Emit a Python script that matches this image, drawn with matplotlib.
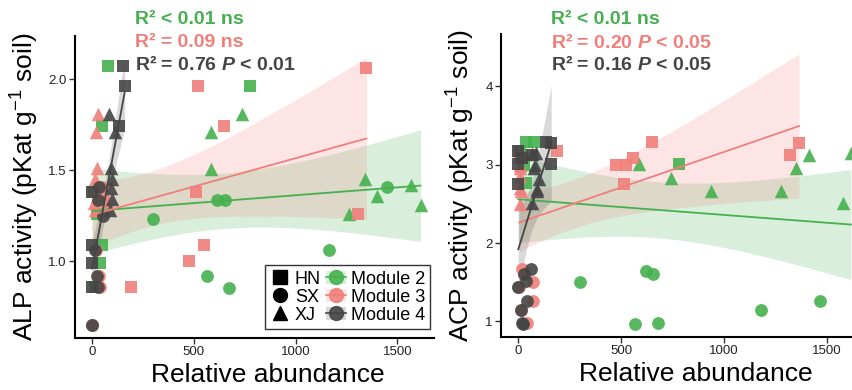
import numpy as np
import matplotlib.pyplot as plt
from matplotlib.lines import Line2D
from matplotlib.patches import Patch

plt.rcParams['font.family'] = 'Liberation Sans'
plt.rcParams['mathtext.fontset'] = 'custom'
plt.rcParams['mathtext.rm'] = 'Liberation Sans'
plt.rcParams['mathtext.it'] = 'Liberation Sans:italic:bold'
plt.rcParams['mathtext.bf'] = 'Liberation Sans:bold'

# ---- data (points hidden under others are estimated) ----
modules = ['Module 2', 'Module 3', 'Module 4']
colors = ['#45B14E', '#F07F7B', '#454545']
sites = ['HN', 'SX', 'XJ']
site_markers = {'HN': 's', 'SX': 'o', 'XJ': '^'}

# ALP panel
alp_m2_x = [80, 50, 777, 50, 40, 10, 15, 25,
            300, 615, 654, 1166, 566, 674, 1451, 0,
            585, 738, 585, 1343, 1402, 1565, 1614, 1260]
alp_m2_y = [2.07, 1.74, 1.96, 1.09, 0.99, 1.38, 0.86, 1.26,
            1.23, 1.335, 1.335, 1.06, 0.92, 0.85, 1.41, 0.65,
            1.71, 1.81, 1.505, 1.45, 1.36, 1.42, 1.31, 1.26]
alp_m2_site = ['HN'] * 8 + ['SX'] * 8 + ['XJ'] * 8

alp_m3_x = [522, 650, 1348, 512, 551, 477, 192, 1309,
            30, 20, 25, 15, 20, 25, 10, 15,
            35, 40, 75, 0, 20, 60, 50]
alp_m3_y = [1.96, 1.74, 2.06, 1.38, 1.09, 1.0, 0.86, 1.26,
            1.81, 1.71, 1.51, 1.45, 1.40, 1.36, 1.32, 1.28,
            0.92, 0.86, 1.29, 0.65, 1.06, 1.335, 1.41]
alp_m3_site = ['HN'] * 8 + ['XJ'] * 8 + ['SX'] * 7

alp_m4_x = [150, 160, 130, 0, 0, 0, 0,
            85, 115, 95, 100, 95, 100, 90,
            15, 25, 30, 0, 55, 30, 35]
alp_m4_y = [2.07, 1.96, 1.74, 1.38, 1.09, 0.99, 0.86,
            1.81, 1.71, 1.51, 1.45, 1.40, 1.34, 1.28,
            1.06, 0.92, 0.86, 0.65, 1.25, 1.335, 1.41]
alp_m4_site = ['HN'] * 7 + ['XJ'] * 7 + ['SX'] * 7

# ACP panel
acp_m2_x = [39, 78, 781, 39, 10, 20, 15, 30,
            301, 621, 655, 568, 680, 1180, 1466, 0,
            587, 743, 937, 1277, 1349, 1412, 1616, 1578]
acp_m2_y = [3.29, 3.29, 3.01, 2.77, 3.17, 3.08, 3.13, 3.0,
            1.50, 1.64, 1.61, 0.97, 0.98, 1.15, 1.26, 1.44,
            3.01, 2.83, 2.67, 2.67, 2.96, 3.13, 3.15, 2.51]
acp_m2_site = ['HN'] * 8 + ['SX'] * 8 + ['XJ'] * 8

acp_m3_x = [189, 476, 524, 558, 650, 514, 1320, 1364,
            5, 10, 10, 10, 10, 10, 10, 15,
            20, 70, 70, 40, 30, 5, 15]
acp_m3_y = [3.17, 3.0, 3.0, 3.08, 3.29, 2.76, 3.13, 3.28,
            3.18, 3.0, 2.85, 2.7, 2.5, 3.13, 2.96, 2.67,
            1.67, 1.50, 1.26, 0.98, 1.60, 1.44, 1.15]
acp_m3_site = ['HN'] * 8 + ['XJ'] * 8 + ['SX'] * 7

acp_m4_x = [136, 0, 0, 160, 0, 68, 20, 160,
            68, 80, 100, 92, 68, 75, 90, 85,
            63, 29, 39, 0, 44, 15, 20, 25]
acp_m4_y = [3.29, 3.18, 3.01, 3.01, 2.76, 3.12, 3.08, 3.28,
            3.14, 3.0, 2.82, 2.69, 2.51, 2.96, 2.67, 3.15,
            1.67, 1.60, 1.52, 1.44, 1.26, 1.15, 0.98, 0.97]
acp_m4_site = ['HN'] * 8 + ['XJ'] * 8 + ['SX'] * 8

alp_stats = ['R² < 0.01 ns', 'R² = 0.09 ns', 'R² = 0.76 $P$ < 0.01']
acp_stats = ['R² < 0.01 ns', 'R² = 0.20 $P$ < 0.05', 'R² = 0.16 $P$ < 0.05']


def t975(df):
    z = 1.959964
    return z + (z**3 + z) / (4 * df) + (5 * z**5 + 16 * z**3 + 3 * z) / (96 * df**2)


def lm_band(ax, x, y, color):
    # linear fit with 95% confidence band, like geom_smooth(method = "lm")
    x = np.asarray(x, float)
    y = np.asarray(y, float)
    n = len(x)
    b, a = np.polyfit(x, y, 1)
    xs = np.linspace(x.min(), x.max(), 100)
    fit = a + b * xs
    resid = y - (a + b * x)
    s = np.sqrt(np.sum(resid**2) / (n - 2))
    sxx = np.sum((x - x.mean())**2)
    se = s * np.sqrt(1 / n + (xs - x.mean())**2 / sxx)
    ci = t975(n - 2) * se
    ax.fill_between(xs, fit - ci, fit + ci, color=color, alpha=0.2, lw=0, zorder=1)
    ax.plot(xs, fit, color=color, lw=1.3, zorder=4)


def panel(ax, data, ylim, yticks, ylabel):
    for (x, y, st), c in zip(data, colors):
        lm_band(ax, x, y, c)
    for (x, y, st), c in zip(data, colors):
        x = np.asarray(x)
        y = np.asarray(y)
        st = np.asarray(st)
        for s in sites:
            m = st == s
            ax.scatter(x[m], y[m], marker=site_markers[s], s=95 if s == 'XJ' else 85,
                       color=c, alpha=0.9, lw=0, zorder=3)
    ax.set_xlim(-84, 1680)
    ax.set_ylim(*ylim)
    ax.set_xticks([0, 500, 1000, 1500])
    ax.set_yticks(yticks)
    for sp in ['top', 'right']:
        ax.spines[sp].set_visible(False)
    for sp in ['left', 'bottom']:
        ax.spines[sp].set_linewidth(1.5)
    ax.tick_params(length=4, width=1, color='#333333', labelsize=9.5, labelcolor='#222222', pad=2)
    ax.set_xlabel('Relative abundance', fontsize=19)
    ax.set_ylabel(ylabel, fontsize=19)


fig = plt.figure(figsize=(8.52, 3.9), dpi=100)
ax1 = fig.add_axes([75 / 852, 1 - 338 / 390, 359 / 852, 302 / 390])
ax2 = fig.add_axes([501 / 852, 1 - 337 / 390, 363 / 852, 303 / 390])

panel(ax1, [(alp_m2_x, alp_m2_y, alp_m2_site), (alp_m3_x, alp_m3_y, alp_m3_site),
            (alp_m4_x, alp_m4_y, alp_m4_site)],
      (0.578, 2.237), [1.0, 1.5, 2.0], r'ALP activity (pKat g$^{-1}$ soil)')
ax1.set_yticklabels(['1.0', '1.5', '2.0'])
panel(ax2, [(acp_m2_x, acp_m2_y, acp_m2_site), (acp_m3_x, acp_m3_y, acp_m3_site),
            (acp_m4_x, acp_m4_y, acp_m4_site)],
      (0.80, 4.67), [1, 2, 3, 4], r'ACP activity (pKat g$^{-1}$ soil)')

# label placement to match the original panels
ax1.yaxis.set_label_coords(-0.095, 0.5)
ax2.yaxis.set_label_coords(-0.066, 0.5)
ax1.xaxis.set_label_coords(0.538, -0.083)
ax2.xaxis.set_label_coords(0.537, -0.083)

for xt, stats in [(135, alp_stats), (551, acp_stats)]:
    for i, (txt, c) in enumerate(zip(stats, colors)):
        fig.text(xt / 852, 1 - (20 + 22.5 * i) / 390, txt, color=c, fontsize=14,
                 fontweight='bold', va='center', ha='left')

handles = [Line2D([], [], ls='none', marker=site_markers[s], color='black', ms=10) for s in sites]
handles += [(Patch(facecolor=c, alpha=0.2, lw=0),
             Line2D([], [], color=c, marker='o', ms=10, lw=1.3, alpha=0.9)) for c in colors]
leg = ax1.legend(handles, sites + modules, ncol=2, loc='lower right', bbox_to_anchor=(0.99, 0.03),
                 fontsize=13, frameon=True, fancybox=False, handlelength=1.1, handletextpad=0.25,
                 columnspacing=0.3, labelspacing=0.05, borderpad=0.3, borderaxespad=0)
leg.get_frame().set_edgecolor('black')
leg.get_frame().set_linewidth(1.0)

fig.savefig('out.png', dpi=100)
